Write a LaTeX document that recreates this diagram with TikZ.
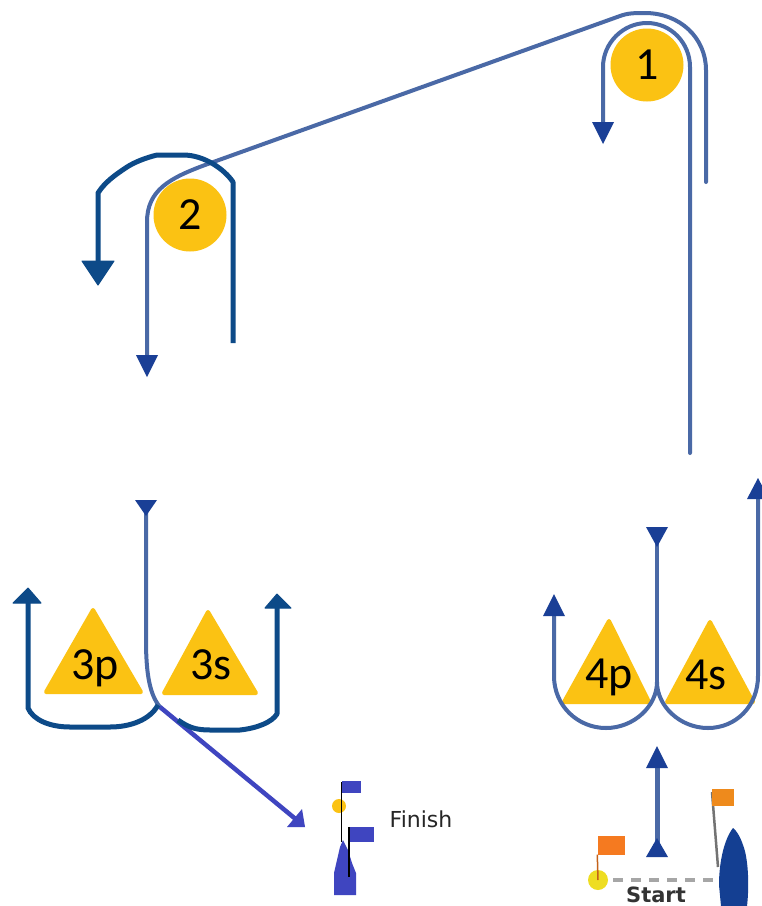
\documentclass[tikz,border=0pt]{standalone}
\usepackage{fontspec}
\setmainfont{Carlito}
\newfontfamily\finfont{DejaVu Sans}
\usetikzlibrary{arrows.meta}
\definecolor{gold}{HTML}{FBC213}
\definecolor{route}{HTML}{4A69A6}
\definecolor{darkroute}{HTML}{0D4A88}
\definecolor{headblue}{HTML}{1A3F96}
\definecolor{finblue}{HTML}{3F45C0}
\definecolor{flagorange}{HTML}{F57A20}
\definecolor{flagamber}{HTML}{EE8A1C}
\definecolor{boatblue}{HTML}{143F92}
\definecolor{startyellow}{HTML}{EEDD22}
\tikzset{
  x=1pt,y=-1pt,
  mark circle/.style={circle,fill=gold,minimum size=73pt,inner sep=0pt,font=\fontsize{46}{46}\selectfont,text=black},
  mark label/.style={inner sep=0pt,font=\fontsize{46}{46}\selectfont,text=black},
  mark tri/.style={fill=gold,draw=gold,line width=4pt,line join=round},
  route line/.style={draw=route,line width=4pt,line cap=round,line join=round},
  dark line/.style={draw=darkroute,line width=5pt,line join=round}
}
\begin{document}
\begin{tikzpicture}
\useasboundingbox (0,0) rectangle (762,906);
\fill[white] (0,0) rectangle (762,906);

% marks
\node[mark circle] (m1) at (647,65) {1};
\node[mark circle] (m2) at (190,215) {2};
\fill[mark tri] (93,610) -- (46,692) -- (141,692) -- cycle;
\fill[mark tri] (208,612) -- (164,693) -- (256,693) -- cycle;
\fill[mark tri] (609,621) -- (564,702) -- (649,702) -- cycle;
\fill[mark tri] (710,622) -- (667,702) -- (753,702) -- cycle;
\node[mark label] (l3p) at (95,668) {3p};
\node[mark label] (l3s) at (211,665) {3s};
\node[mark label] (l4p) at (609,677) {4p};
\node[mark label] (l4s) at (706,675) {4s};

% named ends
\coordinate (a1s) at (690,453);
\coordinate (a1e) at (603,144);
\coordinate (a2s) at (706,182);
\coordinate (a2e) at (147,377);
\coordinate (d2s) at (233,343);
\coordinate (d2e) at (98,285);
\coordinate (c3t) at (146,516);
\coordinate (c3a) at (146,508);
\coordinate (c3m) at (160,707);
\coordinate (fin) at (304,826);
\coordinate (p3e) at (28,587);
\coordinate (s3e) at (277,593);
\coordinate (c4t) at (657,547);
\coordinate (c4a) at (657,540);
\coordinate (c4m) at (657,682);
\coordinate (p4e) at (554,594);
\coordinate (s4e) at (758,478);
\coordinate (st1) at (657,850);
\coordinate (st2) at (657,762);

% lap 1 / 2 routes
\draw[route line] (a1s) -- (690,67) .. controls (690,43) and (671,23) .. (647,23)
  .. controls (623,23) and (603,43) .. (603,67) -- (603,122);
\fill[headblue] (592,122) -- (614,122) -- (a1e) -- cycle;
\draw[route line] (a2s) -- (706,70) .. controls (706,38) and (680,13) .. (645,13)
  .. controls (635,13) and (628,13) .. (620,16) -- (205,165)
  .. controls (170,178) and (147,190) .. (147,222) -- (147,356);
\fill[headblue] (136,355) -- (158,355) -- (a2e) -- cycle;
\draw[dark line] (d2s) -- (233,182) .. controls (225,170) and (205,155) .. (183,155)
  -- (157,155) .. controls (145,158) and (135,162) .. (127,167)
  .. controls (115,175) and (105,182) .. (98,193) -- (98,262);
\fill[darkroute,draw=darkroute,line width=1pt,line join=round] (82,261) -- (114,261) -- (d2e) -- cycle;

% gate 3
\draw[route line] (c3a) -- (146,640) .. controls (146,675) and (150,695) .. (c3m);
\fill[headblue] (135,500) -- (157,500) -- (c3t) -- cycle;
\draw[draw=finblue,line width=4.5pt] (c3m) -- (298,821);
\fill[finblue] (287,827) -- (302,809) -- (305,827) -- cycle;
\draw[dark line] (158,705) .. controls (150,720) and (130,727) .. (110,727)
  -- (70,727) .. controls (50,727) and (33,720) .. (28,708) -- (28,600);
\fill[darkroute,draw=darkroute,line width=1pt,line join=round] (13,603) -- (41,603) -- (28,588) -- cycle;
\draw[dark line] (178,720) .. controls (188,727) and (195,730) .. (210,730)
  -- (240,730) .. controls (258,728) and (272,722) .. (277,714) -- (277,605);
\fill[darkroute,draw=darkroute,line width=1pt,line join=round] (265,608) -- (291,608) -- (277,594) -- cycle;

% gate 4
\draw[route line] (c4a) -- (c4m);
\fill[headblue] (646,527) -- (668,527) -- (c4t) -- cycle;
\draw[route line] (554,612) -- (554,676) .. controls (554,706) and (578,728) .. (606,728)
  .. controls (634,728) and (657,706) .. (c4m)
  .. controls (657,706) and (680,728) .. (708,728)
  .. controls (736,728) and (758,706) .. (758,676) -- (758,495);
\fill[headblue] (543,616) -- (565,616) -- (p4e) -- cycle;
\fill[headblue] (747,499) -- (769,499) -- (s4e) -- cycle;

% start
\draw[draw=route,line width=5pt] (st1) -- (st2);
\fill[headblue] (646,768) -- (668,768) -- (657,746) -- cycle;
\fill[headblue] (646,857) -- (668,857) -- (657,838) -- cycle;
\draw[draw=gray!70,line width=4pt,dash pattern=on 10pt off 8pt] (613,880) -- (720,880);
\node[circle,fill=startyellow,minimum size=20pt,inner sep=0pt] (pin) at (598,880) {};
\node[fill=flagorange,minimum width=27pt,minimum height=19pt,inner sep=0pt] (f1) at (611,845) {};
\draw[draw=flagorange!80!black,line width=1.5pt] (f1.south west) -- (pin.center);
\fill[boatblue] (733,828) .. controls (725,838) and (719,860) .. (719,885) -- (721,906)
  -- (747,906) .. controls (749,890) and (749,860) .. (743,845) .. controls (740,836) and (736,830) .. (733,828) -- cycle;
\draw[draw=gray!90!black,line width=2.5pt] (712,792) -- (718,867);
\node[fill=flagamber,minimum width=22pt,minimum height=17pt,inner sep=0pt] (f2) at (723,797.5) {};
\node[inner sep=0pt,anchor=base,font=\finfont\bfseries\fontsize{21}{21}\selectfont,text=black!80] (start) at (656,902) {Start};

% finish
\fill[finblue] (343,840) -- (348,850) -- (352,863) -- (356,873) -- (356,895) -- (334,895) -- (334,873) -- (337,860) -- (340,847) -- cycle;
\node[fill=finblue,minimum width=19pt,minimum height=12pt,inner sep=0pt] (ff1) at (351.5,787) {};
\node[fill=finblue,minimum width=25pt,minimum height=15pt,inner sep=0pt] (ff2) at (361.5,834.5) {};
\node[circle,fill=gold,minimum size=14pt,inner sep=0pt] (fdot) at (339,806) {};
\draw[line width=1.5pt,black] (341.5,782) -- (341.5,842);
\draw[line width=1.5pt,black] (349,827) -- (349,877);
\node[inner sep=0pt,font=\finfont\fontsize{22}{22}\selectfont,text=black!85] (ft) at (421,819) {Finish};
\end{tikzpicture}
\end{document}
